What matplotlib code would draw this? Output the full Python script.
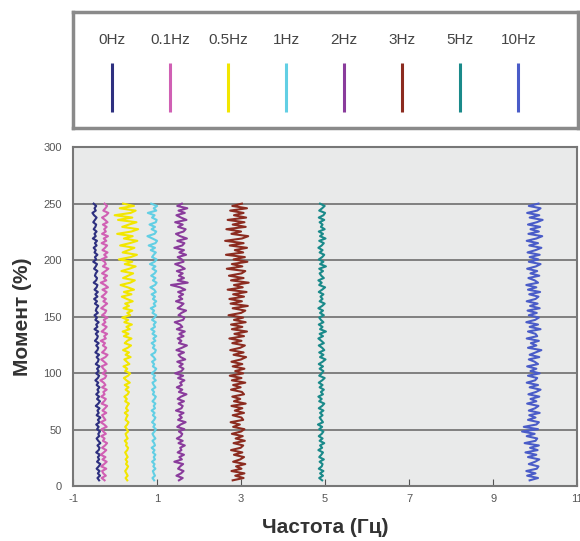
import matplotlib
matplotlib.use("Agg")
import matplotlib.pyplot as plt
import numpy as np

plt.rcParams['font.family'] = ['Liberation Sans', 'DejaVu Sans']
plt.rcParams['axes.unicode_minus'] = False

labels = ['0Hz', '0.1Hz', '0.5Hz', '1Hz', '2Hz', '3Hz', '5Hz', '10Hz']
colors = ['#2e3080', '#d060b4', '#f2e600', '#62cfe4', '#8a3c9c', '#8c2c20', '#1a8a8a', '#4a5cc8']
centers = [-0.43, -0.28, 0.27, 0.92, 1.55, 2.92, 4.90, 9.95]

# x offsets (hundredths of Hz), bottom (5%) to top (250%)
off_0 = [5, 1, 7, 2, 6, -1, 4, 8, 0, 5, 2, 7, -2, 4, 6, 1, 8, 3, -1, 5,
         3, 7, 0, 4, -2, 6, 2, 8, -1, 4, 1, 6, -3, 3, 7, 0, 5, -2, 4, 1,
         6, -1, 3, -4, 2, 5, -2, 4, 0, 6, -3, 2, 4, -1, 5, -4, 1, 3, -2, 4,
         -5, 0, 2, -3, 3, -6, 1, -2, 4, -4, 0, -6, 2, -3, -1, 3, -5, 0, -7, 1,
         -4, 2, -6, -1, 1, -8, -2, 0, -5, -3, 1, -7, -3, 0, -9, -2, -5, 1, -6, -3,
         -8, -1, -5, 0, -10, -3, -6, -1, -8, -4, -2, -9, -5, -1, -7, -11, -3, -6, -2, -8]
off_01 = [3, -4, 6, 0, -3, 7, -5, 2, 8, -2, 5, -6, 1, 7, -3, 4, 9, -1, 3, -5,
          6, 0, -4, 8, 2, -6, 5, 1, -3, 7, -2, 4, 9, -4, 2, 6, -5, 3, 0, 8,
          -3, 5, 1, -7, 4, 7, -2, 6, 0, -4, 8, 2, -5, 5, 10, -3, 3, 7, -1, 4,
          -6, 6, 2, 9, -4, 3, 8, -2, 5, 1, 10, -3, 4, 7, -5, 2, 9, 0, 6, -4,
          3, 8, -2, 11, 4, -6, 7, 1, 9, -3, 5, 12, -1, 6, 3, -5, 8, 2, 10, -2,
          4, 9, -4, 7, 1, 11, -3, 6, 2, 8, -1, 10, 4, -3, 7, 12, 0, 5, 9, 3]
off_05 = [2, -2, 3, 0, -3, 1, 4, -1, 2, -2, 3, 0, -3, 2, 4, -1, 1, -4, 3, 0,
          -2, 4, 1, -3, 2, 5, -2, 0, 3, -4, 4, -1, 2, 6, -3, 1, -5, 3, 6, -2,
          5, -4, 8, 0, -6, 4, 9, -3, 2, -7, 7, 1, -5, 10, -2, 6, -8, 3, 11, -4,
          2, 12, -6, 5, -9, 8, 0, 13, -5, 4, -10, 9, 2, 14, -7, 6, -3, 15, 1, -11,
          12, -6, 18, 3, -14, 9, 20, -8, 4, 16, -12, 7, 22, -4, 14, -18, 10, 25, -9, 5,
          19, -15, 8, 26, -6, 15, -22, 12, 28, -10, 6, 24, -20, 14, -28, 10, 22, -16, 18, -8]
off_1 = [1, -3, 3, 0, -2, 4, -1, 2, -4, 3, 0, 4, -2, 2, -5, 3, 1, -3, 4, 0,
         -3, 2, 5, -1, 3, -4, 1, 4, -2, 2, -5, 3, 0, 4, -3, 2, 5, -2, 1, -4,
         4, 0, -3, 5, -1, 3, -5, 2, 6, -2, 1, -4, 4, 0, -6, 3, 5, -2, 2, -5,
         4, -1, 6, -3, 2, -6, 3, 0, 5, -4, 2, 6, -3, 1, -7, 4, 0, 6, -2, 3,
         -5, 5, 1, -8, 3, 7, -2, 4, -6, 2, 6, -3, 4, -9, 2, 7, -4, 0, 5, -7,
         3, -12, 4, 8, -3, -15, 2, 6, -5, 3, -10, 5, 7, -4, 2, -14, 6, 0, 8, -6]
off_2 = [-3, 6, -9, 2, 8, -5, 0, 7, -14, 4, -2, 9, -6, 3, 0, 11, -4, 6, -8, 2,
         5, -3, 10, -7, 1, 13, -5, 4, -2, 8, -10, 3, 6, -4, 9, -6, 2, 15, -3, 5,
         -8, 4, 0, 10, -5, 7, -12, 3, 8, -2, 6, -7, 12, 1, -4, 9, -9, 4, 16, -3,
         3, -6, 8, -2, 11, -8, 5, 0, -13, 7, 10, -4, 3, 14, -6, 2, 8, -10, 5, -3,
         7, -5, 12, 0, -22, 18, -6, 9, -3, 6, -8, 11, 2, -12, 8, 4, -6, 14, -2, 9,
         -14, 5, 10, -7, 16, 0, -10, 8, 13, -5, 6, -12, 15, 2, -9, 11, -4, 17, -7, 4]
off_3 = [-12, 14, -6, 16, -15, 9, -4, 18, -11, 6, 15, -9, 11, -16, 7, 13, -10, 17, -5, 12,
         -14, 8, 16, -11, 5, -17, 13, 9, -12, 15, -7, 11, -15, 19, -9, 6, -13, 15, 10, -16,
         7, -11, 18, -14, 9, -19, 13, -6, 16, -12, 11, -15, 8, 20, -10, 14, -18, 6, 17, -13,
         9, -20, 15, -8, 22, -14, 11, -16, 19, -9, 13, -22, 8, 18, -12, 24, -17, 10, -20, 15,
         -11, 21, -24, 12, -9, 26, -16, 14, -21, 9, 18, -26, 11, -14, 23, -10, 17, -28, 13, -7,
         22, -19, 14, -30, 10, 25, -15, 8, -27, 19, -12, 16, -24, 20, -9, 14, -18, 22, -13, 10]
off_5 = [3, -4, 5, -2, 6, -5, 2, 4, -3, 7, -4, 1, 5, -6, 3, -2, 8, -3, 4, -5,
         2, 6, -4, 3, -7, 5, 1, -3, 4, -2, 6, -5, 3, 8, -4, 2, -6, 5, 0, 7,
         -3, 4, -5, 3, 9, -4, 2, 6, -3, 5, -5, 4, 11, -2, 6, -4, 8, 3, -5, 7,
         1, -6, 5, -3, 12, -2, 4, -5, 6, 0, -4, 7, -2, 5, -6, 3, 9, -3, 4, -1,
         6, -5, 3, 10, -4, 2, -6, 7, 1, -3, 5, -4, 12, -2, 6, -5, 3, 8, -3, 4,
         -6, 2, 7, -4, 11, -2, 5, -5, 9, 0, 4, -3, 8, -5, 6, 10, -4, 3, 9, -2]
off_10 = [-8, 12, -14, 6, -16, 9, 13, -10, 5, 15, -12, 8, -18, 11, -7, 14, -20, 6, 10, -15,
          4, -26, 12, -22, 8, 14, -12, 6, -9, 16, -10, 5, 13, -14, 8, -6, 15, -11, 7, 18,
          -8, 12, -15, 5, 10, -12, 16, -6, 8, -14, 12, 4, -10, 15, -8, 6, 20, -12, 8, -5,
          14, -15, 10, 6, -12, 18, -8, 12, -16, 5, 14, -10, 9, -13, 16, -7, 11, -15, 6, 13,
          -9, 17, -12, 8, -16, 12, 4, -11, 15, -6, 10, -14, 7, 18, -10, 13, -8, 16, -13, 6,
          20, -9, 12, -15, 8, 22, -11, 14, -6, 17, -12, 9, 23, -8, 15, -14, 10, 18, -10, 13]
offsets = [off_0, off_01, off_05, off_1, off_2, off_3, off_5, off_10]

fig = plt.figure(figsize=(5.8, 5.41), dpi=100)

# legend box
lax = fig.add_axes([0.126, 0.763, 0.871, 0.215])
lax.set_xlim(0, 8.7)
lax.set_ylim(0, 1)
for i, (lab, c) in enumerate(zip(labels, colors)):
    lax.vlines(i + 0.67, 0.14, 0.56, color=c, lw=2.2)
    lax.text(i + 0.67, 0.76, lab, ha='center', va='center', fontsize=11, color='#444444')
lax.set_xticks([])
lax.set_yticks([])
for s in lax.spines.values():
    s.set_color('#8a8a8a')
    s.set_linewidth(2.5)

# main plot
ax = fig.add_axes([0.126, 0.1017, 0.869, 0.6263])
ax.set_facecolor('#e9eaea')
for c, x0, off in zip(colors, centers, offsets):
    y = np.linspace(5, 250, len(off))
    ax.plot(x0 + np.array(off) / 100.0, y, color=c, lw=1.5)

ax.set_xlim(-1, 11)
ax.set_ylim(0, 300)
ax.set_xticks([-1, 1, 3, 5, 7, 9, 11])
ax.set_yticks([0, 50, 100, 150, 200, 250, 300])
ax.grid(axis='y', color='#777777', lw=1.3)
ax.set_axisbelow(True)
ax.tick_params(axis='x', direction='in', length=5, labelsize=8, colors='#555555', pad=6)
ax.tick_params(axis='y', length=0, labelsize=8, colors='#555555', pad=8)
for s in ax.spines.values():
    s.set_color('#777777')
    s.set_linewidth(1.5)

ax.set_xlabel('Частота (Гц)', fontsize=15, fontweight='bold', color='#333333', labelpad=10)
ax.set_ylabel('Момент (%)', fontsize=15, fontweight='bold', color='#333333', labelpad=8)

fig.savefig('out.png', dpi=100)
